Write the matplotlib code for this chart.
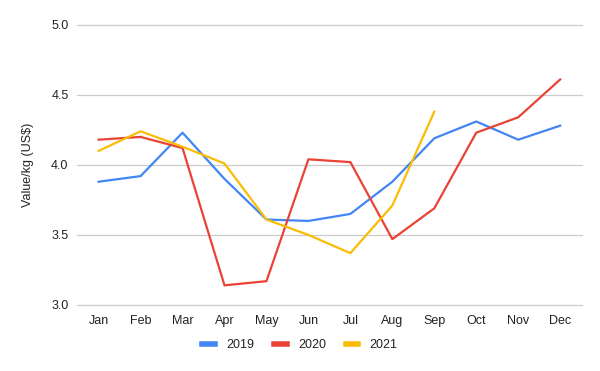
import matplotlib.pyplot as plt

plt.rcParams['font.family'] = ['Liberation Sans', 'DejaVu Sans']

# ── Data ─────────────────────────────────────────────────────
months = ['Jan', 'Feb', 'Mar', 'Apr', 'May', 'Jun',
          'Jul', 'Aug', 'Sep', 'Oct', 'Nov', 'Dec']
v2019 = [3.88, 3.92, 4.23, 3.90, 3.61, 3.60, 3.65, 3.88, 4.19, 4.31, 4.18, 4.28]
v2020 = [4.18, 4.20, 4.12, 3.14, 3.17, 4.04, 4.02, 3.47, 3.69, 4.23, 4.34, 4.61]
v2021 = [4.10, 4.24, 4.13, 4.01, 3.61, 3.50, 3.37, 3.71, 4.38]
yticks = [3.0, 3.5, 4.0, 4.5, 5.0]

series = [('2019', v2019, '#4285F4'),
          ('2020', v2020, '#EA4335'),
          ('2021', v2021, '#FBBC04')]

fig = plt.figure(figsize=(6, 3.71), dpi=100)
ax = fig.add_axes([0.128, 0.178, 0.842, 0.755])

for label, vals, color in series:
    ax.plot(range(len(vals)), vals, color=color, linewidth=1.6, label=label)

ax.set_xlim(-0.52, 11.52)
ax.set_ylim(3.0, 5.0)
ax.set_yticks(yticks)
ax.set_yticklabels([f'{t:.1f}' for t in yticks])
ax.set_xticks(range(len(months)))
ax.set_xticklabels(months)
for t in yticks:
    ax.axhline(t, color='#cccccc', linewidth=0.9, zorder=0, clip_on=False)
for s in ax.spines.values():
    s.set_visible(False)
ax.tick_params(length=0, labelsize=9, colors='#222222')
ax.tick_params(axis='x', pad=7)
ax.tick_params(axis='y', pad=6)
ax.set_ylabel('Value/kg (US$)', fontsize=9, color='#222222', labelpad=12)

leg = fig.legend(loc='center', bbox_to_anchor=(0.5, 0.07), ncol=3, frameon=False,
                 fontsize=9, handlelength=1.0, handletextpad=0.9, columnspacing=1.6)
for h in leg.get_lines():
    h.set_linewidth(4)
for t in leg.get_texts():
    t.set_color('#222222')

fig.savefig('out.png', dpi=100)
